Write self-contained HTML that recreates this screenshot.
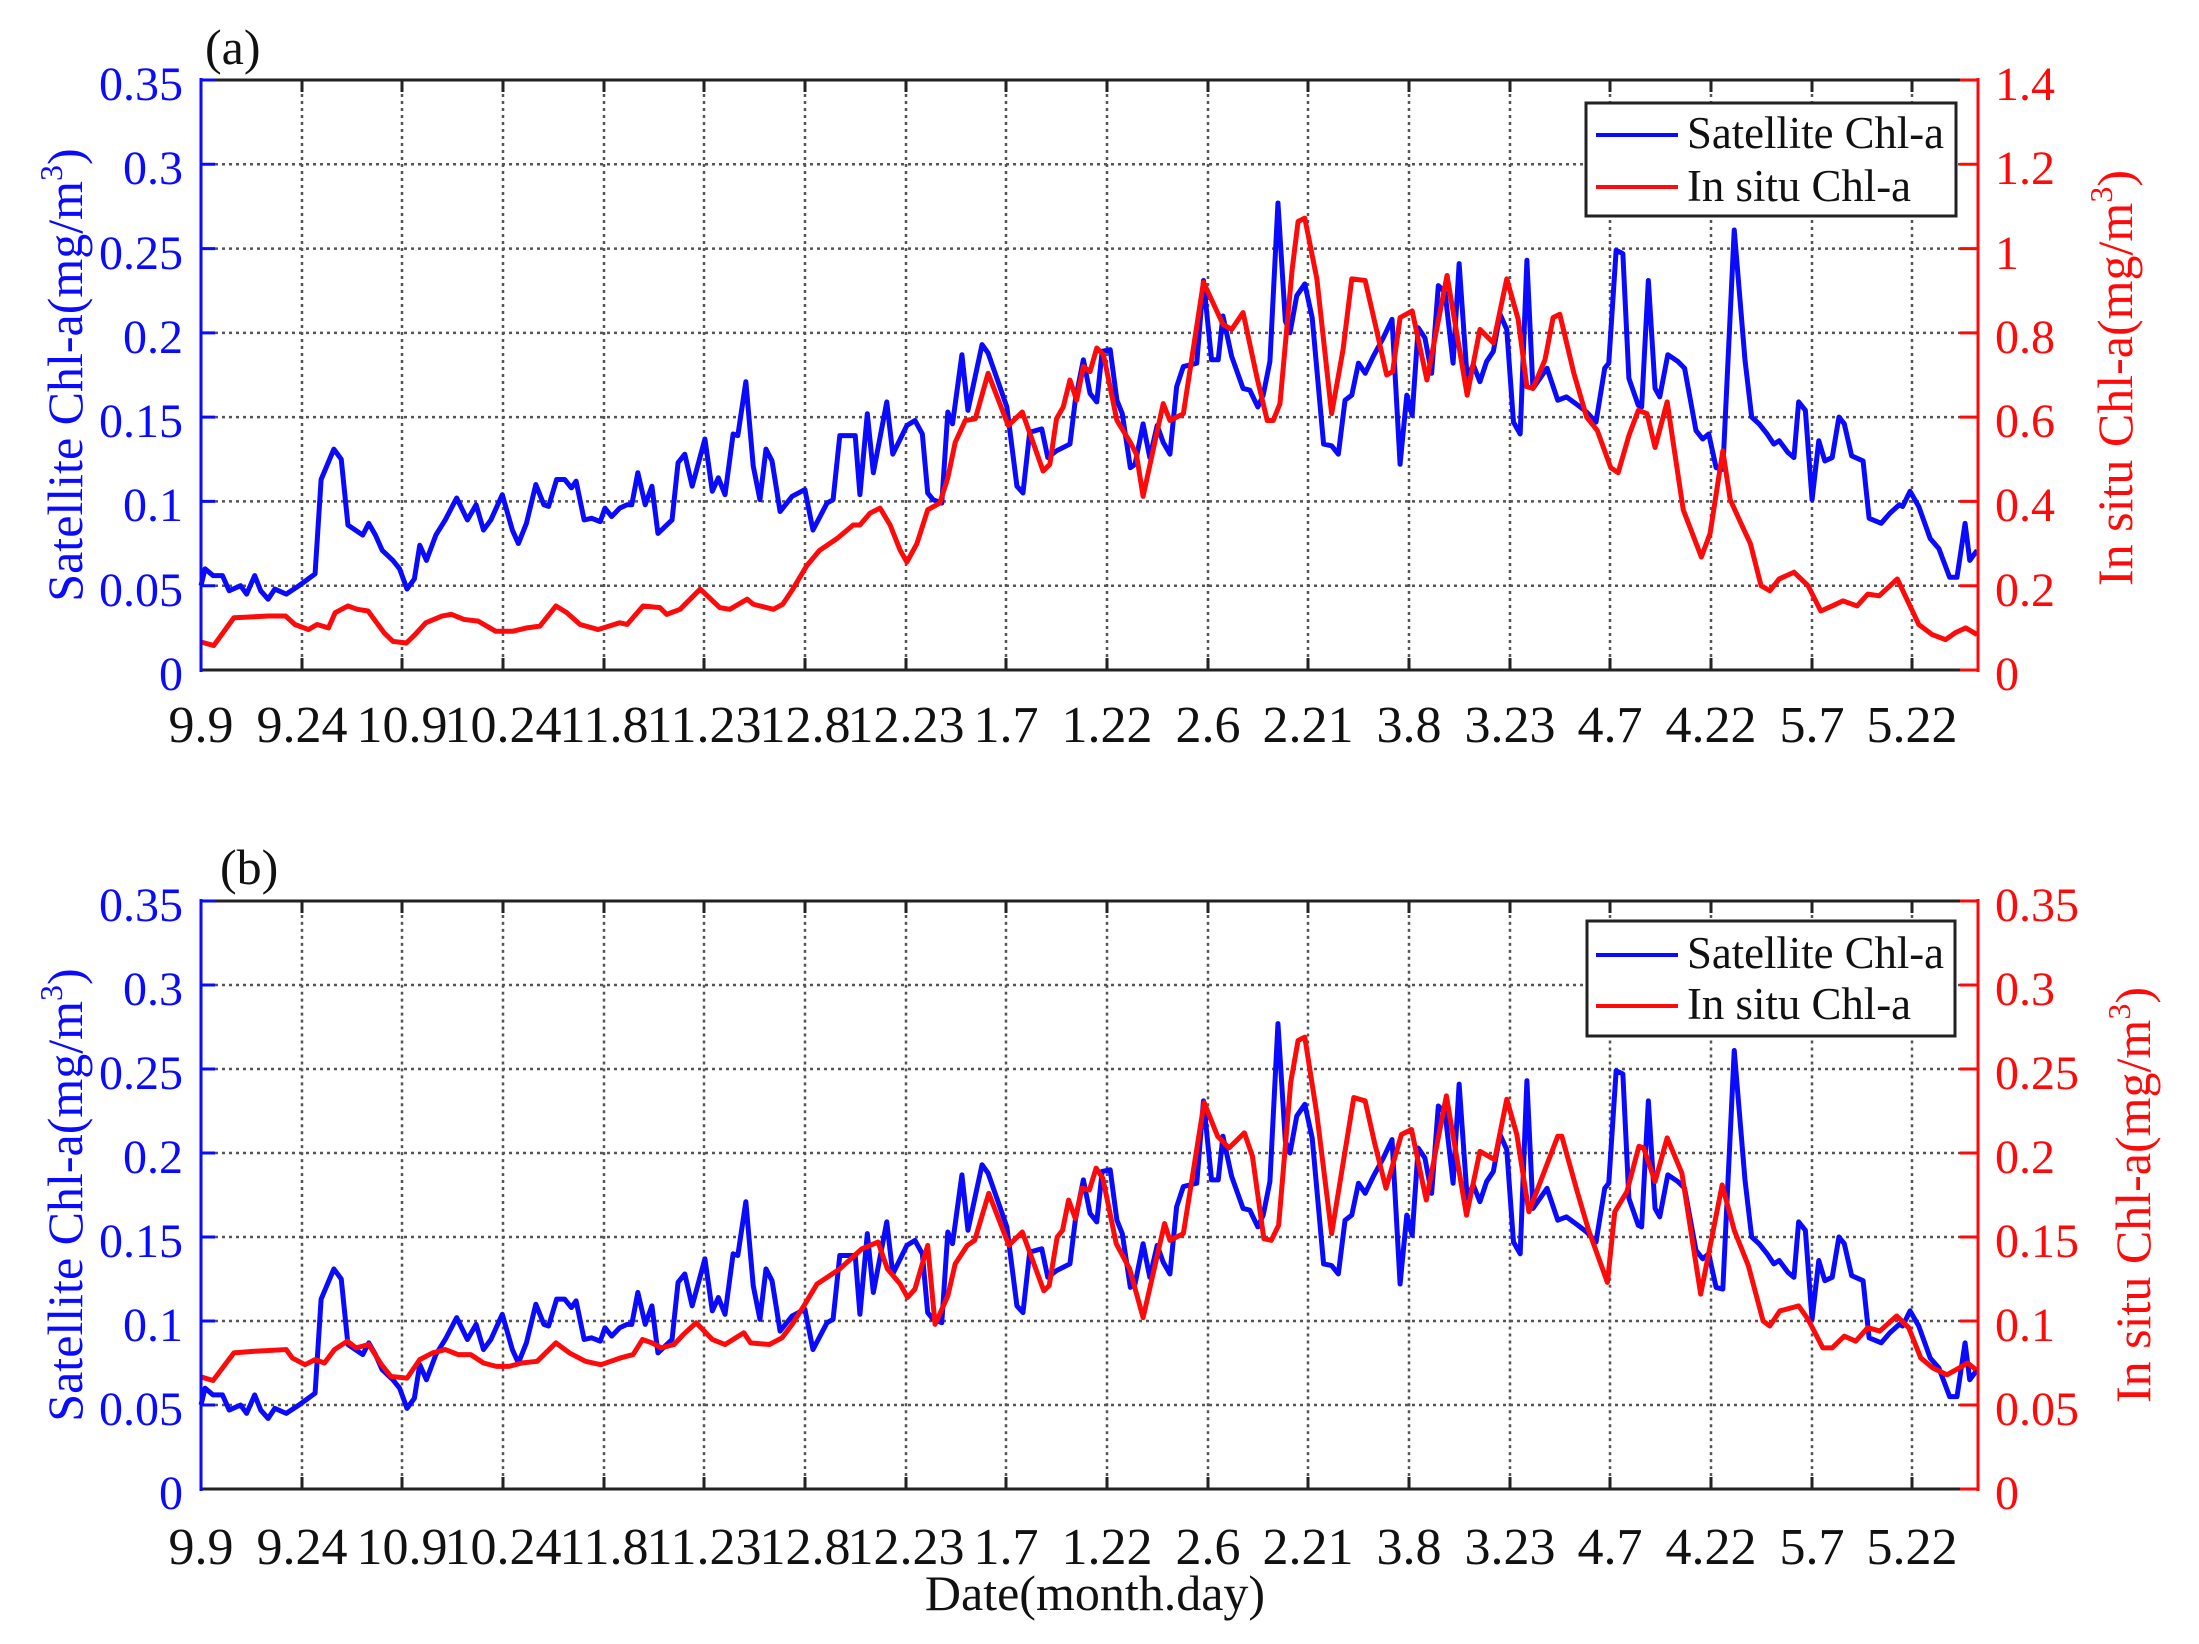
<!DOCTYPE html>
<html><head><meta charset="utf-8"><style>
html,body{margin:0;padding:0;background:#fff}
svg{display:block}
text{font-family:"Liberation Serif",serif}
</style></head><body>
<svg width="2199" height="1644" viewBox="0 0 2199 1644" xmlns="http://www.w3.org/2000/svg">
<defs>
<g id="blue">
<polyline fill="none" stroke="#0a0aff" stroke-width="5" vector-effect="non-scaling-stroke" stroke-linejoin="round" points="0,.050 0.6,.060 1.8,.056 3.2,.056 4.2,.047 5.9,.050 6.8,.045 8,.056 8.9,.047 10,.042 11,.048 12.7,.045 14.6,.050 17,.057 17.9,.113 19.8,.131 20.9,.125 21.9,.086 24.1,.080 25,.087 26,.080 27,.071 28.6,.065 29.6,.060 30.7,.048 31.8,.054 32.6,.074 33.6,.065 35,.080 36.4,.089 38.1,.102 39.7,.089 41,.098 42.1,.083 43.2,.089 44.9,.104 46.4,.083 47.3,.075 48.5,.087 49.9,.110 51.1,.098 51.8,.097 53,.113 54.2,.113 55.2,.108 55.9,.112 57.1,.089 58.2,.090 59.5,.088 60.2,.096 61.2,.091 62.4,.096 63.5,.098 64.2,.098 65.1,.117 66.2,.098 67.2,.109 68.1,.081 70.2,.089 71.1,.123 72.1,.128 73.2,.109 75.1,.137 76.2,.106 77.1,.114 78.1,.104 79.3,.140 80,.139 81.2,.171 82.3,.121 83.3,.101 84.2,.131 85.1,.124 86.3,.094 88.1,.103 90,.107 91.2,.083 93.3,.099 94.2,.101 95.2,.139 97.5,.139 98.2,.104 99.3,.152 100.2,.117 102.2,.159 103.1,.128 105.2,.145 106.4,.148 107.5,.140 108.3,.105 109.1,.101 110.4,.099 111.3,.153 112,.146 113.4,.187 114.3,.154 116.4,.193 117.3,.188 120.1,.156 121.6,.109 122.5,.105 123.5,.141 125.3,.143 126.2,.126 127.5,.130 129.5,.134 130.3,.160 131.5,.184 132.5,.164 133.5,.159 134.3,.189 135.5,.190 136.5,.160 137.3,.152 138.5,.120 139.2,.122 140.4,.146 141.4,.126 142.5,.145 143.4,.135 144.4,.128 145.4,.168 146.4,.180 148.4,.182 149.4,.231 150.6,.184 151.6,.184 152.3,.210 153.6,.186 155.3,.167 156.3,.166 157.5,.156 158.3,.163 159.3,.183 160.5,.277 161.6,.207 162.3,.200 163.3,.222 164.5,.229 165.6,.209 167.3,.134 168.5,.133 169.5,.128 170.5,.160 171.5,.163 172.5,.182 173.5,.176 174.7,.186 176.2,.197 177.5,.208 178.7,.122 179.7,.163 180.5,.151 181.4,.203 182.4,.197 183.4,.176 184.4,.228 185.4,.224 186.6,.182 187.5,.241 188.7,.173 189.6,.181 190.6,.171 191.6,.183 192.6,.189 193.6,.211 194.6,.202 195.6,.147 196.6,.140 197.6,.243 198.5,.167 200.6,.179 202.2,.160 203.5,.162 205.2,.157 206.5,.153 207.9,.147 209.2,.179 209.8,.182 210.9,.249 211.9,.247 212.8,.173 214.2,.157 214.7,.156 215.7,.231 216.7,.167 217.4,.162 218.6,.187 220.1,.183 221.1,.179 222.8,.142 223.8,.137 224.7,.140 225.8,.120 226.8,.119 228.5,.261 230.1,.184 231.1,.150 232.2,.146 233.4,.140 234.4,.134 235.2,.136 236.5,.129 237.4,.126 238.1,.159 239.1,.154 240.1,.101 241.1,.136 242,.124 243.1,.126 244.1,.150 244.9,.146 246,.127 247.7,.124 248.6,.090 250.4,.087 251.7,.093 253.1,.098 253.6,.097 254.7,.106 256,.097 257.7,.078 259,.072 260.6,.055 261.7,.055 262.9,.087 263.6,.065 264.7,.071"/>
</g>
<g id="grid" stroke="#555" stroke-width="2.5" stroke-dasharray="3 4" fill="none">
<path d="M302,0V590 M402,0V590 M503,0V590 M604,0V590 M704,0V590 M805,0V590 M906,0V590 M1006,0V590 M1107,0V590 M1208,0V590 M1308,0V590 M1409,0V590 M1510,0V590 M1610,0V590 M1711,0V590 M1812,0V590 M1912,0V590"/>
</g>
</defs>

<!-- ===== Panel (a) ===== -->
<g transform="translate(0,80)">
<use href="#grid"/>
<g stroke="#555" stroke-width="2.5" stroke-dasharray="3 4"><path d="M201,84.3H1978 M201,168.6H1978 M201,252.9H1978 M201,337.1H1978 M201,421.4H1978 M201,505.7H1978"/></g>
</g>
<g transform="translate(201,670) scale(6.71,-1686)">
<use href="#blue"/>
<polyline fill="none" stroke="#ff0a0a" stroke-width="5" vector-effect="non-scaling-stroke" stroke-linejoin="round" points="0,.0166 1.9,.0145 4.9,.031 10,.032 12.6,.032 14,.027 16,.024 17.3,.027 19,.025 20,.034 21.9,.038 23.3,.036 24.9,.035 27.3,.022 28.6,.017 30.6,.016 31.9,.021 33.5,.028 35.9,.032 37.3,.033 39.2,.030 41.3,.029 43.9,.023 46.5,.023 48.6,.025 50.5,.026 52.9,.038 54.5,.034 56.5,.027 59.2,.024 62.4,.028 63.5,.027 65.9,.038 68.4,.037 69.4,.033 71.4,.036 74.4,.048 77.3,.037 78.8,.036 81.4,.042 82.3,.039 85.3,.036 86.7,.039 88.2,.048 90.3,.062 92.2,.071 94.8,.078 97.2,.086 98.2,.086 99.7,.093 101.2,.096 102.7,.086 104.2,.071 105.2,.064 106.7,.075 108.3,.095 110.1,.099 111.3,.114 112.4,.135 113.9,.148 115.4,.149 117.3,.176 120.3,.145 122.4,.153 124,.135 125.5,.118 126.5,.122 127.5,.149 128.5,.156 129.5,.172 130.5,.160 131.5,.180 132.5,.177 133.5,.191 134.5,.187 136.5,.148 138.5,.135 139.4,.128 140.4,.103 143.4,.158 144.4,.148 146.4,.152 149.4,.230 152.3,.205 153.6,.202 155.3,.212 157.4,.173 158.9,.148 159.8,.148 160.8,.158 162.6,.237 163.5,.266 164.5,.268 166.3,.232 168.5,.152 170.2,.190 171.5,.232 173.5,.231 175,.205 176.7,.175 177.6,.177 178.7,.209 180.5,.213 182.7,.172 185.7,.234 188.7,.163 190.6,.202 192.6,.194 194.6,.232 196.3,.208 197.6,.168 198.5,.167 200.3,.184 201.5,.209 202.5,.211 204.6,.176 206.5,.150 208.1,.142 210.1,.120 211.2,.117 212.8,.139 214.2,.154 215.5,.152 216.7,.132 218.5,.159 220.9,.095 223.6,.067 224.9,.081 226.8,.130 227.9,.101 229.5,.087 230.9,.075 232.5,.050 233.8,.047 235.2,.054 237.4,.058 239.5,.050 241.4,.035 243.1,.038 244.7,.041 246.8,.038 248.4,.045 250.1,.044 252.8,.054 254.7,.038 256,.027 258,.021 260,.018 261.4,.022 263,.025 264.7,.021"/>
</g>
<g stroke-width="3" fill="none">
<path d="M201,80H1978 M201,670H1978" stroke="#222"/>
<path d="M302,80v12M402,80v12M503,80v12M604,80v12M704,80v12M805,80v12M906,80v12M1006,80v12M1107,80v12M1208,80v12M1308,80v12M1409,80v12M1510,80v12M1610,80v12M1711,80v12M1812,80v12M1912,80v12 M302,670v-12M402,670v-12M503,670v-12M604,670v-12M704,670v-12M805,670v-12M906,670v-12M1006,670v-12M1107,670v-12M1208,670v-12M1308,670v-12M1409,670v-12M1510,670v-12M1610,670v-12M1711,670v-12M1812,670v-12M1912,670v-12" stroke="#222"/>
<path d="M201,78V672 M201,80h14M201,164.3h14M201,248.6h14M201,332.9h14M201,417.1h14M201,501.4h14M201,585.7h14" stroke="#0a0aff"/>
<path d="M1978,78V672 M1978,80h-18M1978,164.3h-18M1978,248.6h-18M1978,332.9h-18M1978,417.1h-18M1978,501.4h-18M1978,585.7h-18M1978,670h-18" stroke="#ff0a0a"/>
</g>
<g font-size="48" fill="#0a0aff" text-anchor="end">
<text x="183" y="100">0.35</text><text x="183" y="184">0.3</text><text x="183" y="269">0.25</text><text x="183" y="353">0.2</text><text x="183" y="437">0.15</text><text x="183" y="521">0.1</text><text x="183" y="606">0.05</text><text x="183" y="690">0</text>
</g>
<g font-size="48" fill="#ff0a0a">
<text x="1995" y="100">1.4</text><text x="1995" y="184">1.2</text><text x="1995" y="269">1</text><text x="1995" y="353">0.8</text><text x="1995" y="437">0.6</text><text x="1995" y="521">0.4</text><text x="1995" y="606">0.2</text><text x="1995" y="690">0</text>
</g>
<g font-size="52" fill="#111" text-anchor="middle">
<text x="201" y="742">9.9</text><text x="302" y="742">9.24</text><text x="402" y="742">10.9</text><text x="503" y="742">10.24</text><text x="604" y="742">11.8</text><text x="704" y="742">11.23</text><text x="805" y="742">12.8</text><text x="906" y="742">12.23</text><text x="1006" y="742">1.7</text><text x="1107" y="742">1.22</text><text x="1208" y="742">2.6</text><text x="1308" y="742">2.21</text><text x="1409" y="742">3.8</text><text x="1510" y="742">3.23</text><text x="1610" y="742">4.7</text><text x="1711" y="742">4.22</text><text x="1812" y="742">5.7</text><text x="1912" y="742">5.22</text>
</g>
<text x="205" y="64" font-size="50" fill="#111">(a)</text>
<text transform="translate(82,375) rotate(-90)" font-size="50" fill="#0a0aff" text-anchor="middle">Satellite Chl-a(mg/m<tspan font-size="32" dy="-20">3</tspan><tspan dy="20">)</tspan></text>
<text transform="translate(2132,378) rotate(-90)" font-size="50" fill="#ff0a0a" text-anchor="middle">In situ Chl-a(mg/m<tspan font-size="32" dy="-20">3</tspan><tspan dy="20">)</tspan></text>
<g>
<rect x="1586" y="103" width="370" height="113" fill="#fff" stroke="#222" stroke-width="3"/>
<line x1="1596" y1="135" x2="1678" y2="135" stroke="#0a0aff" stroke-width="4"/>
<line x1="1596" y1="187" x2="1678" y2="187" stroke="#ff0a0a" stroke-width="4"/>
<text x="1687" y="148" font-size="45" fill="#111" textLength="257" lengthAdjust="spacingAndGlyphs">Satellite Chl-a</text>
<text x="1687" y="201" font-size="45" fill="#111" textLength="224" lengthAdjust="spacingAndGlyphs">In situ Chl-a</text>
</g>

<!-- ===== Panel (b) ===== -->
<g transform="translate(0,901) scale(1,0.9966)">
<use href="#grid"/>
</g>
<g stroke="#555" stroke-width="2.5" stroke-dasharray="3 4"><path d="M201,985H1978 M201,1069H1978 M201,1153H1978 M201,1237H1978 M201,1321H1978 M201,1405H1978"/></g>
<g transform="translate(201,1489) scale(6.71,-1680)">
<use href="#blue"/>
<polyline fill="none" stroke="#ff0a0a" stroke-width="5" vector-effect="non-scaling-stroke" stroke-linejoin="round" points="0,.0667 1.8,.0646 4.9,.081 8,.082 12.7,.083 13.6,.078 15.5,.074 17,.077 18.4,.075 19.9,.083 21.8,.088 23.1,.084 25,.086 26.9,.074 28.3,.067 30.7,.066 32.6,.077 34.5,.081 36.4,.083 38.3,.080 40.2,.080 42.1,.075 44,.073 45.9,.073 47.8,.075 50.1,.076 52.9,.087 54.9,.081 57.3,.076 59.6,.074 62.5,.078 64.4,.080 65.8,.089 67.2,.087 68.6,.084 70.5,.086 71.9,.092 73.8,.099 76.2,.089 78.1,.086 80.9,.093 81.9,.087 84.7,.086 86.6,.090 88.1,.098 90,.110 91.8,.122 95.2,.131 98.5,.143 100.9,.147 102.3,.131 104.2,.122 105.3,.114 106.4,.119 108.3,.145 109.4,.098 111.3,.115 112.4,.134 114.2,.145 115.3,.148 117.4,.176 120.4,.145 122.4,.153 125.6,.118 126.4,.121 127.6,.150 128.4,.154 129.3,.172 130.3,.161 131.3,.179 132.4,.178 133.4,.191 134.4,.185 136.4,.146 138.4,.131 140.4,.102 143.6,.158 144.4,.148 146.4,.152 149.5,.230 151.5,.210 153.2,.203 155.5,.212 156.7,.198 158.4,.149 159.5,.148 160.6,.157 162.4,.242 163.5,.267 164.5,.269 166.3,.223 168.5,.152 171.8,.233 173.5,.231 174.9,.206 176.6,.179 178.9,.211 180.4,.214 182.6,.172 185.6,.234 188.6,.163 190.6,.201 192.8,.196 194.6,.232 196.1,.211 197.9,.165 202.2,.210 202.8,.210 205.1,.177 206.8,.154 209.6,.123 210.7,.165 212.5,.177 214.3,.204 215,.203 216.7,.183 218.5,.209 220.7,.188 223.5,.116 226.7,.181 228.5,.154 230.6,.133 232.8,.100 233.8,.097 235.3,.106 238.1,.109 239.5,.101 241.7,.084 243.1,.084 244.9,.091 246.6,.088 248.4,.096 250.2,.094 252.7,.103 254.5,.096 256.3,.078 258.1,.072 260.2,.068 262,.072 263.3,.075 264.5,.071"/>
</g>
<g stroke-width="3" fill="none">
<path d="M201,901H1978 M201,1489H1978" stroke="#222"/>
<path d="M302,901v12M402,901v12M503,901v12M604,901v12M704,901v12M805,901v12M906,901v12M1006,901v12M1107,901v12M1208,901v12M1308,901v12M1409,901v12M1510,901v12M1610,901v12M1711,901v12M1812,901v12M1912,901v12 M302,1489v-12M402,1489v-12M503,1489v-12M604,1489v-12M704,1489v-12M805,1489v-12M906,1489v-12M1006,1489v-12M1107,1489v-12M1208,1489v-12M1308,1489v-12M1409,1489v-12M1510,1489v-12M1610,1489v-12M1711,1489v-12M1812,1489v-12M1912,1489v-12" stroke="#222"/>
<path d="M201,899V1491 M201,901h14M201,985h14M201,1069h14M201,1153h14M201,1237h14M201,1321h14M201,1405h14" stroke="#0a0aff"/>
<path d="M1978,899V1491 M1978,901h-18M1978,985h-18M1978,1069h-18M1978,1153h-18M1978,1237h-18M1978,1321h-18M1978,1405h-18M1978,1489h-18" stroke="#ff0a0a"/>
</g>
<g font-size="48" fill="#0a0aff" text-anchor="end">
<text x="183" y="921">0.35</text><text x="183" y="1005">0.3</text><text x="183" y="1089">0.25</text><text x="183" y="1173">0.2</text><text x="183" y="1257">0.15</text><text x="183" y="1341">0.1</text><text x="183" y="1425">0.05</text><text x="183" y="1509">0</text>
</g>
<g font-size="48" fill="#ff0a0a">
<text x="1995" y="921">0.35</text><text x="1995" y="1005">0.3</text><text x="1995" y="1089">0.25</text><text x="1995" y="1173">0.2</text><text x="1995" y="1257">0.15</text><text x="1995" y="1341">0.1</text><text x="1995" y="1425">0.05</text><text x="1995" y="1509">0</text>
</g>
<g font-size="52" fill="#111" text-anchor="middle">
<text x="201" y="1564">9.9</text><text x="302" y="1564">9.24</text><text x="402" y="1564">10.9</text><text x="503" y="1564">10.24</text><text x="604" y="1564">11.8</text><text x="704" y="1564">11.23</text><text x="805" y="1564">12.8</text><text x="906" y="1564">12.23</text><text x="1006" y="1564">1.7</text><text x="1107" y="1564">1.22</text><text x="1208" y="1564">2.6</text><text x="1308" y="1564">2.21</text><text x="1409" y="1564">3.8</text><text x="1510" y="1564">3.23</text><text x="1610" y="1564">4.7</text><text x="1711" y="1564">4.22</text><text x="1812" y="1564">5.7</text><text x="1912" y="1564">5.22</text>
</g>
<text x="1095" y="1610" font-size="50" fill="#111" text-anchor="middle">Date(month.day)</text>
<text x="220" y="884" font-size="50" fill="#111">(b)</text>
<text transform="translate(82,1195) rotate(-90)" font-size="50" fill="#0a0aff" text-anchor="middle">Satellite Chl-a(mg/m<tspan font-size="32" dy="-20">3</tspan><tspan dy="20">)</tspan></text>
<text transform="translate(2150,1195) rotate(-90)" font-size="50" fill="#ff0a0a" text-anchor="middle">In situ Chl-a(mg/m<tspan font-size="32" dy="-20">3</tspan><tspan dy="20">)</tspan></text>
<g>
<rect x="1587" y="921" width="368" height="115" fill="#fff" stroke="#222" stroke-width="3"/>
<line x1="1596" y1="955" x2="1678" y2="955" stroke="#0a0aff" stroke-width="4"/>
<line x1="1596" y1="1006" x2="1678" y2="1006" stroke="#ff0a0a" stroke-width="4"/>
<text x="1687" y="968" font-size="45" fill="#111" textLength="257" lengthAdjust="spacingAndGlyphs">Satellite Chl-a</text>
<text x="1687" y="1019" font-size="45" fill="#111" textLength="224" lengthAdjust="spacingAndGlyphs">In situ Chl-a</text>
</g>
</svg>
</body></html>
